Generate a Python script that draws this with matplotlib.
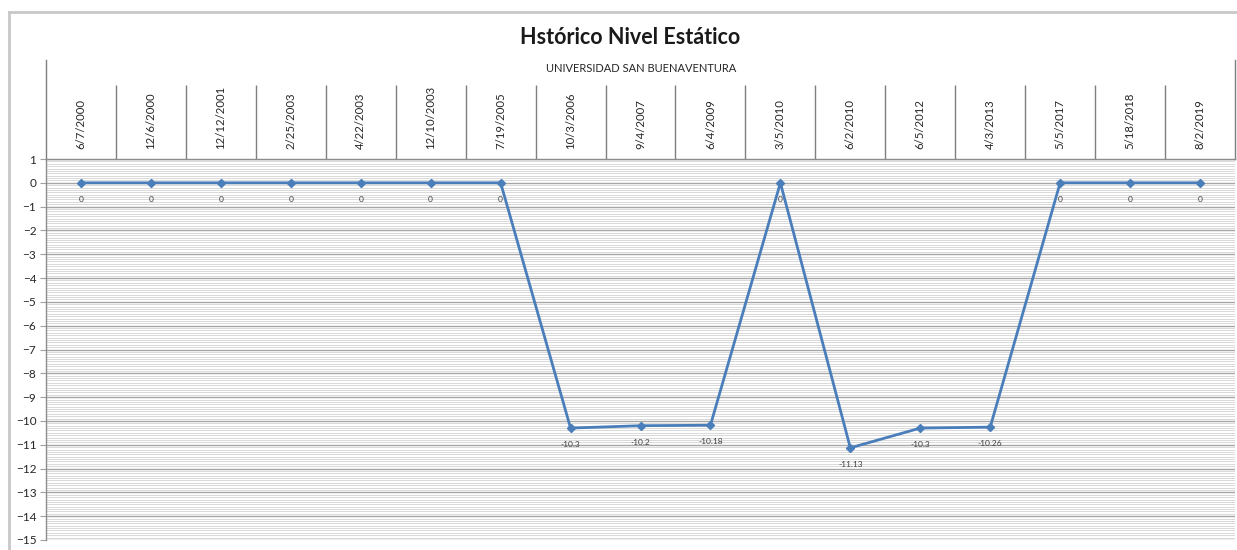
import numpy as np
import matplotlib.pyplot as plt
from matplotlib.ticker import MultipleLocator, FixedLocator

fechas = ["6/7/2000", "12/6/2000", "12/12/2001", "2/25/2003", "4/22/2003",
          "12/10/2003", "7/19/2005", "10/3/2006", "9/4/2007", "6/4/2009",
          "3/5/2010", "6/2/2010", "6/5/2012", "4/3/2013", "5/5/2017",
          "5/18/2018", "8/2/2019"]
nivel = [0, 0, 0, 0, 0, 0, 0, -10.3, -10.2, -10.18, 0, -11.13, -10.3, -10.26, 0, 0, 0]
etiquetas = ["0", "0", "0", "0", "0", "0", "0", "-10.3", "-10.2", "-10.18", "0",
             "-11.13", "-10.3", "-10.26", "0", "0", "0"]

plt.rcParams['font.family'] = ['Lato', 'DejaVu Sans']

W, H = 1237, 550
fig = plt.figure(figsize=(W / 100, H / 100), dpi=100)

# plot area in pixels
x0, x1, ytop, ybot = 46, 1235, 159, 540
ax = fig.add_axes([x0 / W, (H - ybot) / H, (x1 - x0) / W, (ybot - ytop) / H])

n = len(fechas)
x = np.arange(n)
ax.plot(x, nivel, color='#4a7ebb', lw=2, marker='D', ms=4.5, zorder=3)
for xi, yi, t in zip(x, nivel, etiquetas):
    ax.annotate(t, (xi, yi), xytext=(0, -12), textcoords='offset points',
                ha='center', va='center', fontsize=6, color='#404040')

ax.set_xlim(-0.5, n - 0.5)
ax.set_ylim(-15, 1)

# gridlines
ax.yaxis.set_major_locator(MultipleLocator(1))
ax.yaxis.set_minor_locator(MultipleLocator(0.1))
ax.grid(axis='y', which='major', color='#a6a6a6', lw=1.0)
ax.grid(axis='y', which='minor', color='#d9d9d9', lw=0.7)
ax.set_axisbelow(True)
ax.tick_params(axis='y', which='minor', length=0)
ax.tick_params(axis='y', which='major', length=4, color='#a0a0a0', labelsize=8.5,
               labelcolor='#262626', pad=3)

# category axis on top
ax.xaxis.tick_top()
ax.xaxis.set_major_locator(FixedLocator(np.arange(0.5, n - 1, 1)))
ax.xaxis.set_minor_locator(FixedLocator(x))
ax.xaxis.set_major_formatter(plt.NullFormatter())
ax.set_xticks(x, fechas, minor=True)
ax.tick_params(axis='x', which='major', length=53, width=1, color='#7f7f7f', direction='out')
ax.tick_params(axis='x', which='minor', length=0, labelsize=8.2, rotation=90, pad=7,
               labelcolor='#262626', top=True, labeltop=True)

for s in ['right', 'bottom']:
    ax.spines[s].set_visible(False)
ax.spines['top'].set_color('#8c8c8c')
ax.spines['left'].set_color('#8c8c8c')
ax.spines['top'].set_linewidth(1)
ax.spines['left'].set_linewidth(1)

# tall outer separators
tr = ax.get_xaxis_transform()
for xv in [-0.5, n - 0.5]:
    ax.plot([xv, xv], [1, 1 + (ytop - 60) / (ybot - ytop)], transform=tr,
            color='#7f7f7f', lw=1, clip_on=False)

fig.text(630 / W, 1 - 37 / H, "Hstórico Nivel Estático", ha='center', va='center',
         fontsize=15.5, fontweight='bold', color='#1a1a1a')
fig.text(641 / W, 1 - 68 / H, "UNIVERSIDAD SAN BUENAVENTURA", ha='center', va='center',
         fontsize=8, color='#262626')

# spreadsheet frame
fig.add_artist(plt.Line2D([9 / W, 1], [1 - 12 / H, 1 - 12 / H], color='#c8c8c8', lw=2))
fig.add_artist(plt.Line2D([9 / W, 9 / W], [0, 1 - 12 / H], color='#c8c8c8', lw=2))

fig.savefig("out.png", dpi=100)
